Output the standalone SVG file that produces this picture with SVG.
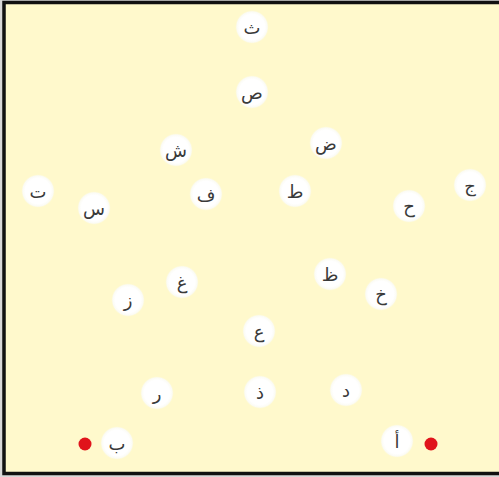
<svg xmlns="http://www.w3.org/2000/svg" width="499" height="477" viewBox="0 0 499 477">
<defs>
<radialGradient id="g" cx="0.5" cy="0.5" r="0.5">
<stop offset="0.75" stop-color="#ffffff"/>
<stop offset="0.9" stop-color="#fbfbf4"/>
<stop offset="1" stop-color="#fff9cc" stop-opacity="0"/>
</radialGradient>
<style>
.n circle{fill:url(#g)}
.n text{font-family:"DejaVu Sans",sans-serif;font-size:18px;fill:#3a3a3a;text-anchor:middle;dominant-baseline:central}
.dot{fill:#e0141b}
</style>
</defs>
<rect x="0" y="0" width="499" height="477" fill="#d8d8d8"/>
<rect x="4" y="2.5" width="500" height="471" fill="#fff9cc" stroke="#111" stroke-width="3.5"/>
<g id="connectors"></g>
<g id="n-tha" class="n"><circle cx="252" cy="27" r="17"/><text x="252" y="27">ث</text></g>
<g id="n-sad" class="n"><circle cx="252" cy="92" r="17"/><text x="252" y="92">ص</text></g>
<g id="n-shin" class="n"><circle cx="176" cy="150" r="17"/><text x="176" y="150">ش</text></g>
<g id="n-dad" class="n"><circle cx="326" cy="143" r="17"/><text x="326" y="143">ض</text></g>
<g id="n-ta" class="n"><circle cx="38" cy="191" r="17"/><text x="38" y="191">ت</text></g>
<g id="n-sin" class="n"><circle cx="94" cy="208" r="17"/><text x="94" y="208">س</text></g>
<g id="n-fa" class="n"><circle cx="206" cy="194" r="17"/><text x="206" y="194">ف</text></g>
<g id="n-tah" class="n"><circle cx="295" cy="191" r="17"/><text x="295" y="191">ط</text></g>
<g id="n-hah" class="n"><circle cx="409" cy="206" r="17"/><text x="409" y="206">ح</text></g>
<g id="n-jim" class="n"><circle cx="470" cy="185" r="17"/><text x="470" y="185">ج</text></g>
<g id="n-ghain" class="n"><circle cx="182" cy="282" r="17"/><text x="182" y="282">غ</text></g>
<g id="n-zay" class="n"><circle cx="128" cy="300" r="17"/><text x="128" y="300">ز</text></g>
<g id="n-zah" class="n"><circle cx="330" cy="274" r="17"/><text x="330" y="274">ظ</text></g>
<g id="n-kha" class="n"><circle cx="381" cy="294" r="17"/><text x="381" y="294">خ</text></g>
<g id="n-ain" class="n"><circle cx="259" cy="331" r="17"/><text x="259" y="331">ع</text></g>
<g id="n-ra" class="n"><circle cx="157" cy="393" r="17"/><text x="157" y="393">ر</text></g>
<g id="n-thal" class="n"><circle cx="260" cy="392" r="17"/><text x="260" y="392">ذ</text></g>
<g id="n-dal" class="n"><circle cx="346" cy="390" r="17"/><text x="346" y="390">د</text></g>
<g id="n-ba" class="n"><circle cx="117" cy="443" r="17"/><text x="117" y="443">ب</text></g>
<g id="n-alif" class="n"><circle cx="397" cy="441" r="17"/><text x="397" y="441">أ</text></g>
<circle class="dot" cx="85" cy="444" r="6.5"/>
<circle class="dot" cx="431" cy="444" r="6.5"/>
</svg>
